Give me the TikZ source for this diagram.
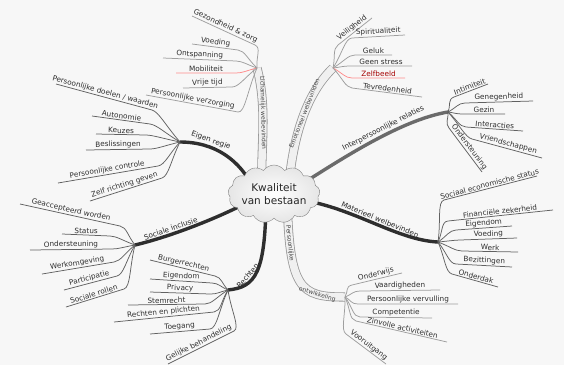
\documentclass[tikz,border=0pt]{standalone}
\usepackage{fontspec}
\setmainfont{DejaVu Sans}
\usetikzlibrary{calc,shapes.symbols,backgrounds}
\newcommand\mmleaf[6][]{%
  \coordinate (#2a) at #4;%
  \coordinate (#2e) at #5;%
  \draw[leafline,#1] (#3) .. controls ($(#3)!0.5!(#2a)$) and ($(#2a)!-7pt!(#2e)$) .. (#2a) -- (#2e)
    node[leaftext,midway,sloped,above] {#6};%
}
\begin{document}
\begin{tikzpicture}[x=1pt,y=-1pt,
  leafline/.style={draw=black!62, line width=0.75pt},
  paleleaf/.style={draw=black!38},
  redleaf/.style={draw=red!45},
  leaftext/.style={font=\fontsize{7.3}{8}\selectfont, text=black!82, inner sep=0.9pt},
  darkstem/.style={draw=black!82, line width=3.4pt, line cap=round},
  band/.style={draw=black!40, line width=0.8pt, double=black!6, double distance=7.5pt},
  stemlabel/.style={font=\fontsize{7.3}{8}\selectfont, text=black!85, inner sep=1.2pt},
  bandtext/.style={font=\fontsize{6}{7}\selectfont, text=black!72, inner sep=0.5pt, sloped},
]
\useasboundingbox (0,0) rectangle (564,365);
% hubs
\coordinate (hubL) at (257,68);
\coordinate (hubE) at (333,68);
\coordinate (hubI) at (448,112);
\coordinate (hubM) at (438,242);
\coordinate (hubP) at (345,297);
\coordinate (hubRe) at (228,290);
\coordinate (hubS) at (135,245);
\coordinate (hubR) at (180,142);
% centre
\node[cloud, cloud puffs=13, cloud puff arc=110, draw=black!50, inner color=white, outer color=black!10, minimum width=92pt, minimum height=58pt, inner sep=0pt] (kw) at (274,194) {};
\node[font=\fontsize{10.5}{13}\selectfont, align=center, text=black!85] (kwt) at (kw.center) {Kwaliteit\\van bestaan};

\begin{scope}[on background layer]
\fill[black!3] (0,0) rectangle (564,365);
% pale bands
\draw[band] (hubL) .. controls (268,110) and (260,150) .. ($(kw.center)+(-12,0)$)
  node[bandtext,pos=0.36] {Lichamelijk welbevinden};
\draw[band] ($(kw.center)+(14,0)$) .. controls (292,140) and (305,95) .. (hubE)
  node[bandtext,pos=0.56] {Emotioneel welbevinden};
\draw[band] ($(kw.center)+(13,0)$) .. controls (289,290) and (300,297) .. (hubP)
  node[bandtext,pos=0.21] {Persoonlijke}
  node[bandtext,pos=0.75] {ontwikkeling};
% dark stems
\draw[darkstem] ($(kw.center)+(-20,-5)$) .. controls (240,160) and (215,142) .. (hubR) node[stemlabel,pos=0.7,sloped,above]{Eigen regie};
\draw[darkstem] ($(kw.center)+(-20,5)$) .. controls (215,220) and (165,238) .. (hubS) node[stemlabel,pos=0.65,sloped,above]{Sociale inclusie};
\draw[darkstem] ($(kw.center)+(-8,0)$) .. controls (266,275) and (255,287) .. (hubRe) node[stemlabel,pos=0.62,sloped,above]{Rechten};
\draw[darkstem] ($(kw.center)+(20,5)$) .. controls (350,205) and (395,240) .. (hubM) node[stemlabel,pos=0.55,sloped,above]{Materieel welbevinden};
\draw[darkstem,draw=black!58] ($(kw.center)+(20,-5)$) .. controls (340,160) and (400,120) .. (hubI) node[stemlabel,pos=0.6,sloped,above]{Interpersoonlijke relaties};
\end{scope}

% Lichamelijk welbevinden
\mmleaf[paleleaf]{L1}{hubL}{(255,45)}{(192,16)}{Gezondheid \& zorg}
\mmleaf[paleleaf]{L2}{hubL}{(238,50)}{(192,44)}{Voeding}
\mmleaf[paleleaf]{L3}{hubL}{(236,61)}{(163,58)}{Ontspanning}
\mmleaf[redleaf]{L4}{hubL}{(236,73)}{(176,73)}{Mobiliteit}
\mmleaf[paleleaf]{L5}{hubL}{(232,87)}{(183,88)}{Vrije tijd}
\mmleaf[paleleaf]{L6}{hubL}{(238,112)}{(146,95)}{Persoonlijke verzorging}
% Emotioneel welbevinden
\mmleaf[paleleaf]{E1}{hubE}{(338,45)}{(372,18)}{Veiligheid}
\mmleaf[paleleaf]{E2}{hubE}{(352,38)}{(405,35)}{Spiritualiteit}
\mmleaf[paleleaf]{E3}{hubE}{(355,55)}{(392,55)}{Geluk}
\mmleaf[paleleaf]{E4}{hubE}{(350,66)}{(412,66)}{Geen stress}
\mmleaf[redleaf]{E5}{hubE}{(352,78)}{(405,78)}{\textcolor{red!65!black}{Zelfbeeld}}
\mmleaf[paleleaf]{E6}{hubE}{(352,88)}{(422,97)}{Tevredenheid}
% Interpersoonlijke relaties
\mmleaf{I1}{hubI}{(454,97)}{(488,84)}{Intimiteit}
\mmleaf{I2}{hubI}{(465,103)}{(533,101)}{Genegenheid}
\mmleaf{I3}{hubI}{(463,114)}{(505,114)}{Gezin}
\mmleaf{I4}{hubI}{(466,127)}{(523,131)}{Interacties}
\mmleaf{I5}{hubI}{(472,139)}{(542,158)}{Vriendschappen}
\mmleaf{I6}{hubI}{(449,128)}{(482,172)}{Ondersteuning}
% Materieel welbevinden
\mmleaf{M1}{hubM}{(444,200)}{(537,176)}{Sociaal economische status}
\mmleaf{M2}{hubM}{(448,221)}{(553,210)}{Financiële zekerheid}
\mmleaf{M3}{hubM}{(456,230)}{(512,226)}{Eigendom}
\mmleaf{M4}{hubM}{(460,240)}{(517,238)}{Voeding}
\mmleaf{M5}{hubM}{(462,251)}{(518,252)}{Werk}
\mmleaf{M6}{hubM}{(456,264)}{(512,267)}{Bezittingen}
\mmleaf{M7}{hubM}{(452,274)}{(498,287)}{Onderdak}
% Persoonlijke ontwikkeling
\mmleaf[paleleaf]{P1}{hubP}{(352,285)}{(402,273)}{Onderwijs}
\mmleaf[paleleaf]{P2}{hubP}{(360,291)}{(440,290)}{Vaardigheden}
\mmleaf[paleleaf]{P3}{hubP}{(358,304)}{(458,304)}{Persoonlijke vervulling}
\mmleaf[paleleaf]{P4}{hubP}{(360,317)}{(432,318)}{Competentie}
\mmleaf[paleleaf]{P5}{hubP}{(356,321)}{(447,342)}{Zinvolle activiteiten}
\mmleaf[paleleaf]{P6}{hubP}{(346,334)}{(386,364)}{Vooruitgang}
% Rechten
\mmleaf{R1}{hubRe}{(215,276)}{(150,260)}{Burgerrechten}
\mmleaf{R2}{hubRe}{(212,283)}{(150,279)}{Eigendom}
\mmleaf{R3}{hubRe}{(210,294)}{(150,292)}{Privacy}
\mmleaf{R4}{hubRe}{(205,304)}{(128,305)}{Stemrecht}
\mmleaf{R5}{hubRe}{(214,312)}{(114,322)}{Rechten en plichten}
\mmleaf{R6}{hubRe}{(210,329)}{(150,334)}{Toegang}
\mmleaf{R7}{hubRe}{(234,331)}{(168,364)}{Gelijke behandeling}
% Sociale inclusie
\mmleaf{S1}{hubS}{(120,226)}{(20,204)}{Geaccepteerd worden}
\mmleaf{S2}{hubS}{(110,236)}{(62,234)}{Status}
\mmleaf{S3}{hubS}{(112,249)}{(30,250)}{Ondersteuning}
\mmleaf{S4}{hubS}{(114,262)}{(42,274)}{Werkomgeving}
\mmleaf{S5}{hubS}{(117,276)}{(64,290)}{Participatie}
\mmleaf{S6}{hubS}{(124,289)}{(66,307)}{Sociale rollen}
% Eigen regie
\mmleaf{G1}{hubR}{(152,110)}{(56,84)}{Persoonlijke doelen / waarden}
\mmleaf{G2}{hubR}{(150,124)}{(92,116)}{Autonomie}
\mmleaf{G3}{hubR}{(146,135)}{(96,134)}{Keuzes}
\mmleaf{G4}{hubR}{(150,149)}{(86,150)}{Beslissingen}
\mmleaf{G5}{hubR}{(158,166)}{(58,183)}{Persoonlijke controle}
\mmleaf{G6}{hubR}{(162,178)}{(90,201)}{Zelf richting geven}
\end{tikzpicture}
\end{document}
